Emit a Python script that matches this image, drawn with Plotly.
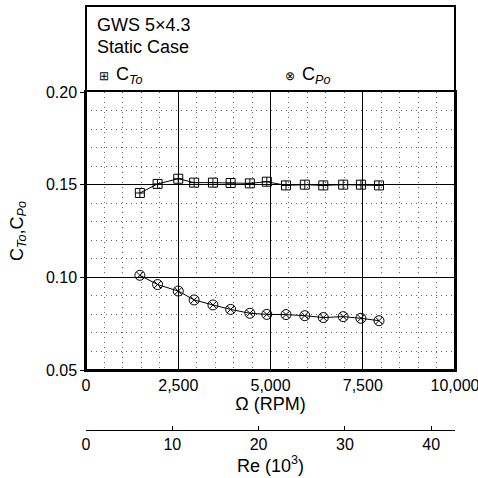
import plotly.graph_objects as go

rpm = [1460, 1940, 2500, 2930, 3440, 3920, 4440, 4900, 5420, 5930, 6430, 6970, 7450, 7940]
ct0 = [0.1455, 0.1504, 0.1532, 0.1511, 0.1511, 0.1509, 0.1507, 0.1516, 0.1496, 0.1500, 0.1496, 0.1500, 0.1500, 0.1496]
cp0 = [0.1011, 0.0961, 0.0926, 0.0878, 0.0851, 0.0827, 0.0806, 0.0800, 0.0799, 0.0793, 0.0783, 0.0788, 0.0779, 0.0766]

x_ticks = [0, 2500, 5000, 7500, 10000]
y_ticks = [0.05, 0.10, 0.15, 0.20]
re_ticks = [0, 10, 20, 30, 40]
re_max = 42.76  # Re (10^3) at 10,000 RPM

FONT = "Liberation Sans, Arial, sans-serif"

fig = go.Figure()
fig.add_trace(go.Scatter(x=rpm, y=ct0, mode="lines+markers", name="C_To",
                         line=dict(color="black", width=1),
                         marker=dict(symbol="square-cross-open", size=9, color="black",
                                     line=dict(width=1, color="black")),
                         showlegend=False))
fig.add_trace(go.Scatter(x=rpm, y=cp0, mode="lines+markers", name="C_Po",
                         line=dict(color="black", width=1),
                         marker=dict(symbol="circle-x-open", size=10, color="black",
                                     line=dict(width=1, color="black")),
                         showlegend=False))

dom0 = 0.1775
fig.update_layout(
    width=478, height=478,
    margin=dict(l=86, r=23, t=92, b=48),
    paper_bgcolor="white", plot_bgcolor="white",
    font=dict(family=FONT, size=16, color="black"),
    xaxis=dict(range=[0, 10000], tickvals=x_ticks, tickformat=",d",
               ticklabeloverflow="allow",
               showgrid=True, gridcolor="black", gridwidth=1,
               minor=dict(dtick=500, tick0=0, showgrid=True, gridcolor="#666",
                          griddash="1px,4px", gridwidth=1),
               showline=True, linecolor="black", linewidth=1.5, mirror=True,
               ticks="", zeroline=False, automargin=False,
               title=dict(text="Ω (RPM)", font=dict(size=18), standoff=4)),
    yaxis=dict(range=[0.05, 0.20], tickvals=y_ticks, tickformat=".2f",
               domain=[dom0, 1],
               showgrid=True, gridcolor="black", gridwidth=1,
               minor=dict(dtick=0.01, tick0=0.05, showgrid=True, gridcolor="#666",
                          griddash="1px,4px", gridwidth=1),
               showline=True, linecolor="black", linewidth=1.5, mirror=True,
               ticks="outside", ticklen=4, tickcolor="black",
               zeroline=False, automargin=False,
               title=dict(text="C<sub><i>To</i></sub>,C<sub><i>Po</i></sub>",
                          font=dict(size=18), standoff=18)),
    xaxis2=dict(range=[0, re_max], tickvals=re_ticks, overlaying="x",
                anchor="free", position=0, side="bottom",
                showline=True, linecolor="black", linewidth=1,
                ticks="inside", ticklen=4, tickcolor="black",
                showgrid=False, zeroline=False, automargin=False,
                title=dict(text="Re (10<sup>3</sup>)", font=dict(size=18), standoff=4)),
)

# invisible trace to activate Re axis
fig.add_trace(go.Scatter(x=[v * re_max / 10000 for v in rpm], y=ct0, xaxis="x2", yaxis="y",
                         mode="markers", marker=dict(opacity=0), hoverinfo="skip",
                         showlegend=False))

# outer box including legend area
fig.add_shape(type="rect", xref="paper", yref="paper", x0=0, x1=1, y0=dom0,
              y1=(430 - 6) / 338, line=dict(color="black", width=2))

def py(pix):
    return (430 - pix) / 338

def px(pix):
    return (pix - 86) / 369

anns = [
    dict(text="GWS 5×4.3", x=px(95), y=py(25), size=18),
    dict(text="Static Case", x=px(95), y=py(47), size=18),
    dict(text="⊞", x=px(97), y=py(76), size=12),
    dict(text="C<sub><i>To</i></sub>", x=px(114), y=py(75), size=18),
    dict(text="⊗", x=px(283), y=py(76), size=12),
    dict(text="C<sub><i>Po</i></sub>", x=px(300), y=py(75), size=18),
]
for a in anns:
    fig.add_annotation(text=a["text"], x=a["x"], y=a["y"], xref="paper", yref="paper",
                       xanchor="left", yanchor="middle", showarrow=False,
                       font=dict(size=a["size"], family=FONT, color="black"))

fig.write_html("out.html")
